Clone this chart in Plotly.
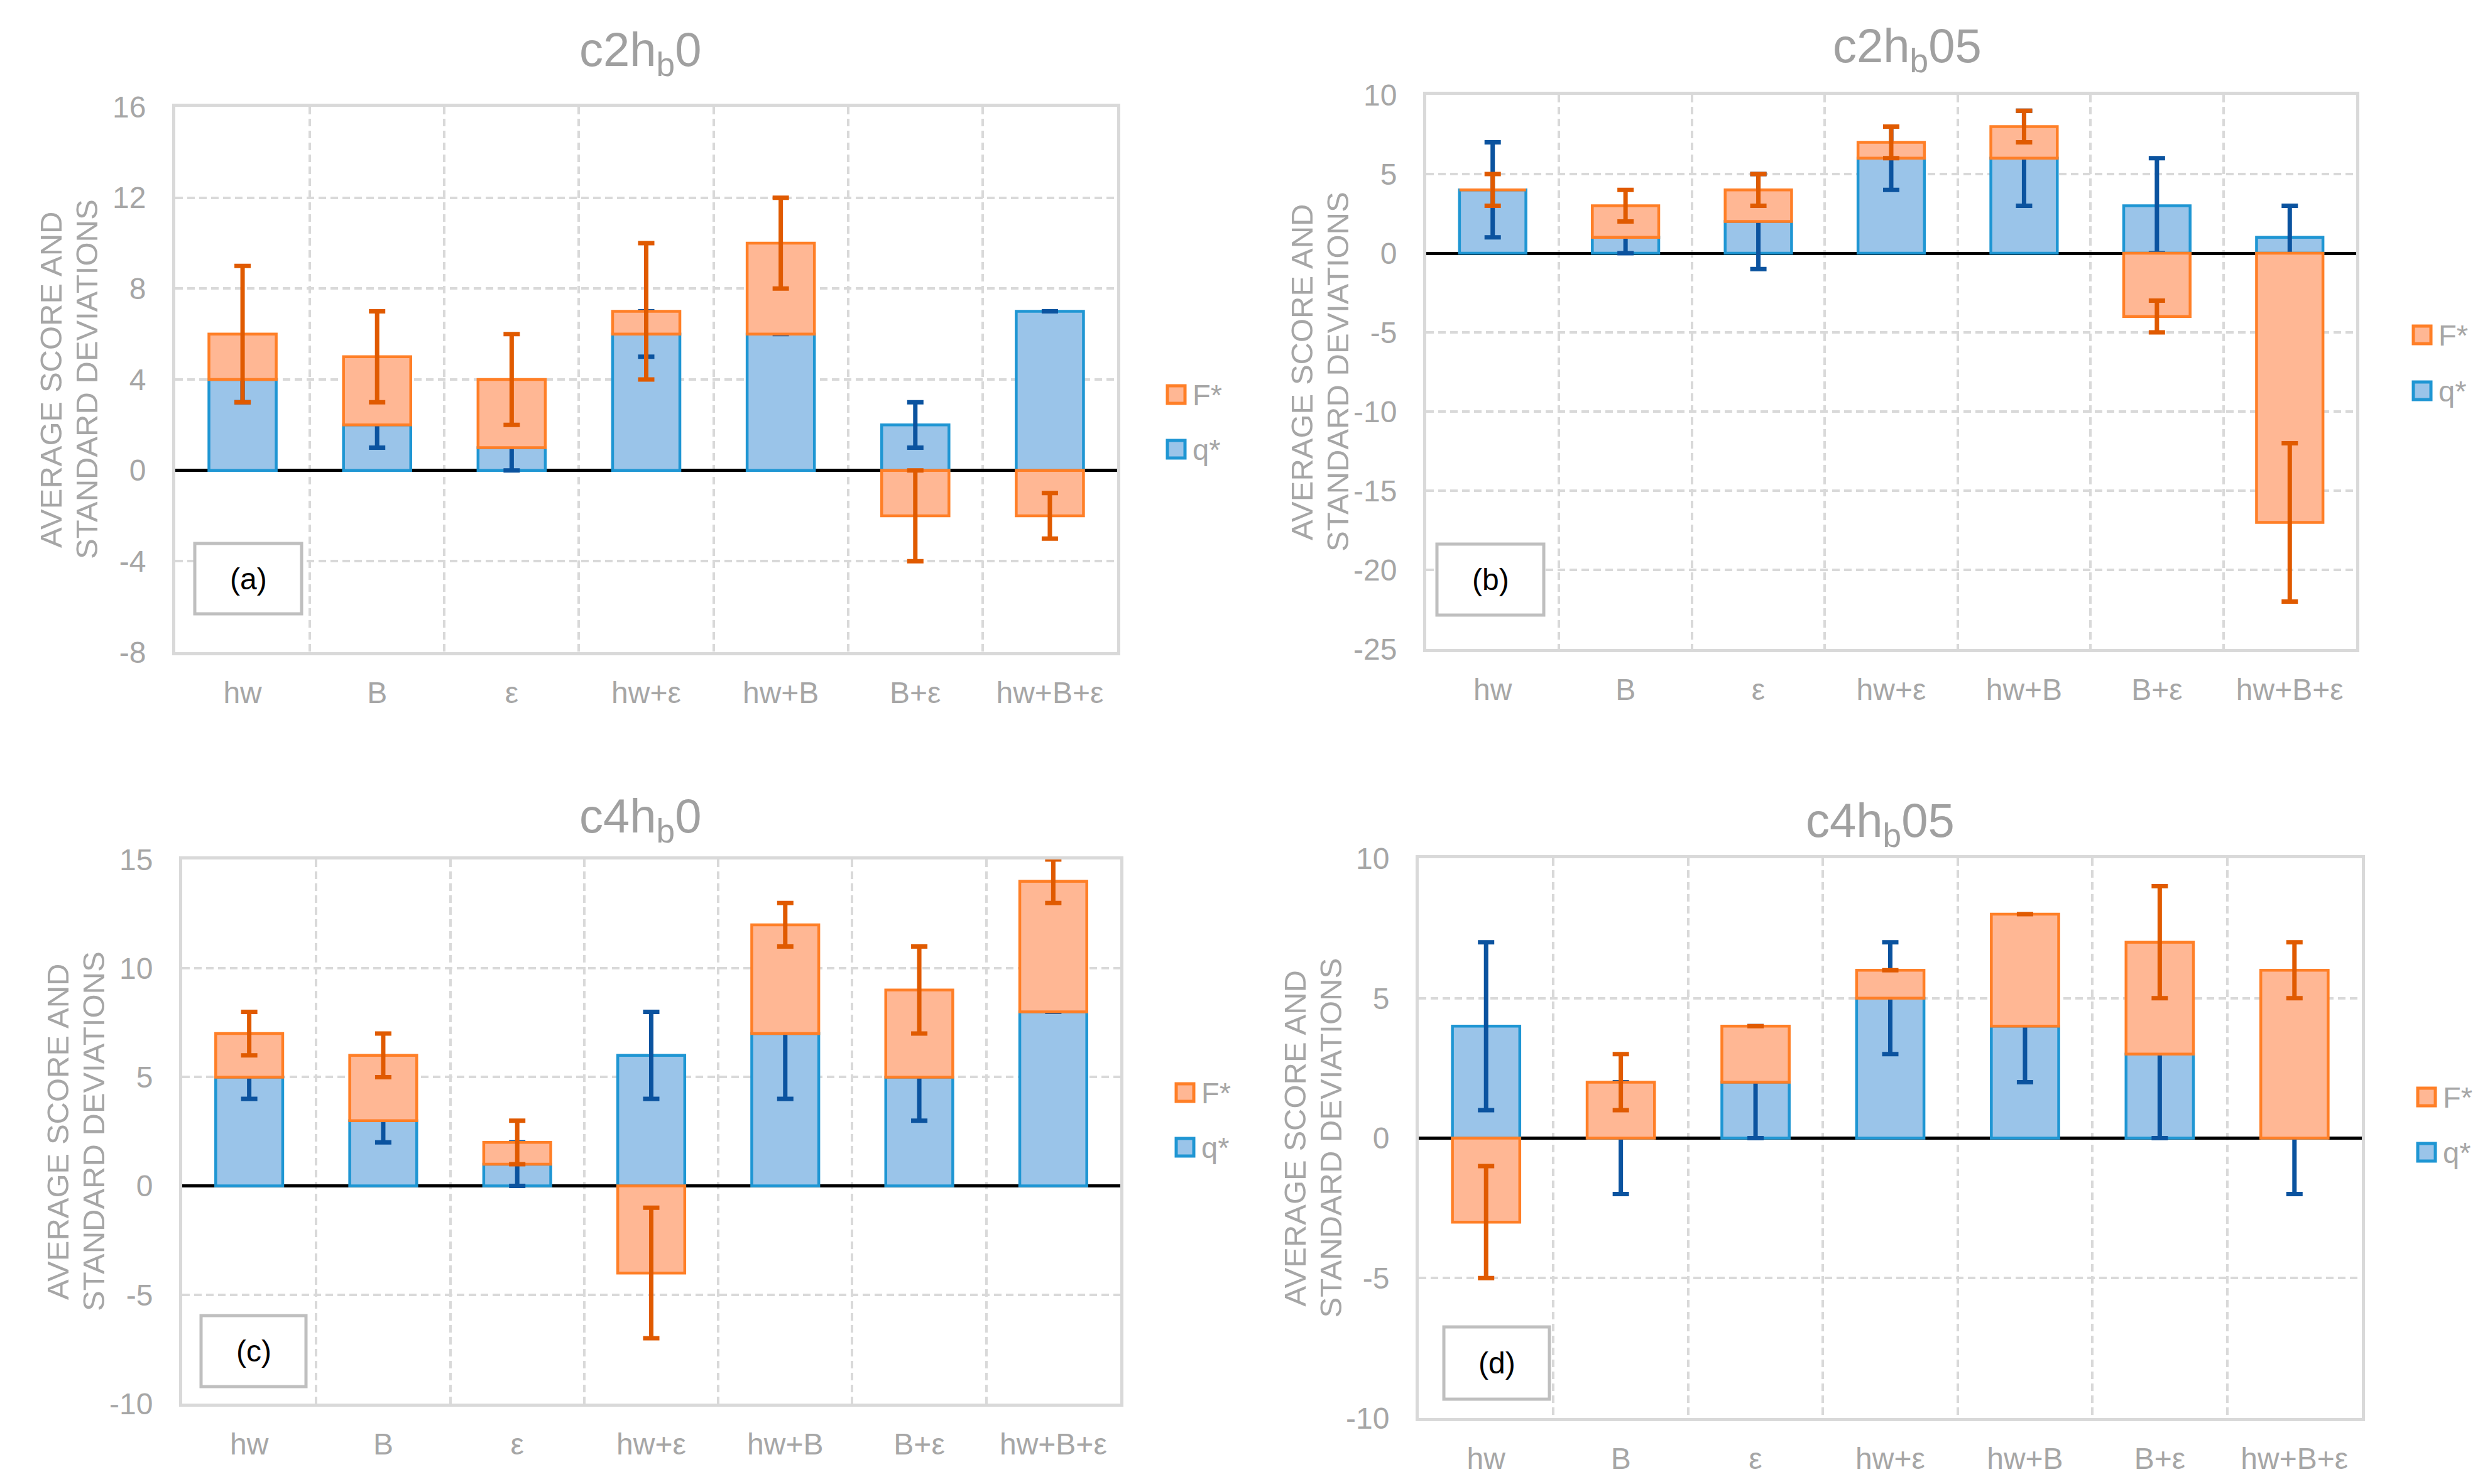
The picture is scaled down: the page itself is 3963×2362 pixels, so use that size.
import plotly.graph_objects as go

W, H = 3963, 2362

categories = ["hw", "B", "ε", "hw+ε", "hw+B", "B+ε", "hw+B+ε"]

# (a) c2h_b0
a_q = [4, 2, 1, 6, 6, 2, 7]
a_q_err = [1, 1, 1, 1, 0, 1, 0]
a_F = [2, 3, 3, 1, 4, -2, -2]
a_F_err = [3, 2, 2, 3, 2, 2, 1]

# (b) c2h_b05
b_q = [4, 1, 2, 6, 6, 3, 1]
b_q_err = [3, 1, 3, 2, 3, 3, 2]
b_F = [0, 2, 2, 1, 2, -4, -17]
b_F_err = [1, 1, 1, 1, 1, 1, 5]

# (c) c4h_b0
c_q = [5, 3, 1, 6, 7, 5, 8]
c_q_err = [1, 1, 1, 2, 3, 2, 0]
c_F = [2, 3, 1, -4, 5, 4, 6]
c_F_err = [1, 1, 1, 3, 1, 2, 1]

# (d) c4h_b05
d_q = [4, 0, 2, 5, 4, 3, 0]
d_q_err = [3, 2, 2, 2, 2, 3, 2]
d_F = [-3, 2, 2, 1, 4, 4, 6]
d_F_err = [2, 1, 0, 0, 0, 2, 1]

# y tick values and labels per panel
a_yticks = [-8, -4, 0, 4, 8, 12, 16]
b_yticks = [-25, -20, -15, -10, -5, 0, 5, 10]
c_yticks = [-10, -5, 0, 5, 10, 15]
d_yticks = [-10, -5, 0, 5, 10]
a_yticklabels = ["-8", "-4", "0", "4", "8", "12", "16"]
b_yticklabels = ["-25", "-20", "-15", "-10", "-5", "0", "5", "10"]
c_yticklabels = ["-10", "-5", "0", "5", "10", "15"]
d_yticklabels = ["-10", "-5", "0", "5", "10"]

titles = ["c2h<sub>b</sub>0", "c2h<sub>b</sub>05", "c4h<sub>b</sub>0", "c4h<sub>b</sub>05"]
panel_labels = ["(a)", "(b)", "(c)", "(d)"]
y_ranges = [[-8, 16], [-25, 10], [-10, 15], [-10, 10]]
y_tickvals = [a_yticks, b_yticks, c_yticks, d_yticks]
y_ticktexts = [a_yticklabels, b_yticklabels, c_yticklabels, d_yticklabels]

FONT = "Liberation Sans, Arial, sans-serif"
GRAY = "#A6A6A6"
GRID = "#D9D9D9"
BLUE_FILL = "#9AC4E9"
BLUE_LINE = "#1F96D3"
BLUE_ERR = "#0B539F"
OR_FILL = "#FFB794"
OR_LINE = "#FF7F27"
OR_ERR = "#E05A00"


def px(x):
    return x / W


def py(y):
    return 1 - y / H


# plot area pixel boxes: left, right, top, bottom
boxes = [
    (279, 1778, 170, 1038),
    (2270, 3750, 151, 1033),
    (290, 1783, 1368, 2234),
    (2258, 3759, 1366, 2257),
]
title_pos = [(1019, 84), (3035, 78), (1019, 1304), (2992, 1311)]
legend_pos = [((1872, 628), (1872, 715)), ((3855, 533), (3855, 622)),
              ((1886, 1739), (1886, 1826)), ((3862, 1746), (3862, 1834))]
label_boxes = [(310, 480, 865, 977), (2287, 2457, 866, 979),
               (320, 487, 2094, 2207), (2298, 2466, 2112, 2227)]

data = [
    (a_q, a_q_err, a_F, a_F_err),
    (b_q, b_q_err, b_F, b_F_err),
    (c_q, c_q_err, c_F, c_F_err),
    (d_q, d_q_err, d_F, d_F_err),
]

fig = go.Figure()
annotations = []
shapes = []
layout = {}

for i, (q, qe, F, Fe) in enumerate(data):
    n = i + 1
    xref = "x" if n == 1 else f"x{n}"
    yref = "y" if n == 1 else f"y{n}"
    fig.add_trace(go.Bar(
        x=categories, y=q, name="q*", xaxis=xref, yaxis=yref,
        marker=dict(color=BLUE_FILL, line=dict(color=BLUE_LINE, width=4.5)),
        error_y=dict(type="data", array=qe, visible=True, color=BLUE_ERR,
                     thickness=7, width=13),
        showlegend=False,
    ))
    fig.add_trace(go.Bar(
        x=categories, y=F, name="F*", xaxis=xref, yaxis=yref,
        marker=dict(color=OR_FILL, line=dict(color=OR_LINE, width=4.5)),
        error_y=dict(type="data", array=Fe, visible=True, color=OR_ERR,
                     thickness=7, width=13),
        showlegend=False,
    ))
    L, R, T, B = boxes[i]
    xk = "xaxis" if n == 1 else f"xaxis{n}"
    yk = "yaxis" if n == 1 else f"yaxis{n}"
    layout[xk] = dict(
        domain=[px(L), px(R)], anchor=yref, type="category",
        categoryorder="array", categoryarray=categories,
        tickson="boundaries", showgrid=True, gridcolor=GRID, gridwidth=4,
        griddash="12px,7px", showline=True, mirror=True, linecolor=GRID,
        linewidth=5, ticks="", zeroline=False, automargin=False,
        tickfont=dict(family=FONT, size=48, color=GRAY),
        ticklabelstandoff=18,
    )
    layout[yk] = dict(
        domain=[py(B), py(T)], anchor=xref, range=y_ranges[i],
        tickmode="array", tickvals=y_tickvals[i], ticktext=y_ticktexts[i],
        showgrid=True, gridcolor=GRID,
        gridwidth=4, griddash="12px,7px", zeroline=True,
        zerolinecolor="black", zerolinewidth=5, showline=True, mirror=True,
        linecolor=GRID, linewidth=5, ticks="", automargin=False,
        tickfont=dict(family=FONT, size=48, color=GRAY),
        ticklabelstandoff=32,
    )
    # title
    tx, ty = title_pos[i]
    annotations.append(dict(
        text=titles[i], x=px(tx), y=py(ty), xref="paper", yref="paper",
        xanchor="center", yanchor="middle", showarrow=False,
        font=dict(family=FONT, size=76, color="#A0A0A0"),
    ))
    # y axis title (two lines)
    yc = (T + B) / 2
    for txt, off in (("AVERAGE SCORE AND", -198), ("STANDARD DEVIATIONS", -141)):
        annotations.append(dict(
            text=txt, x=px(L + off), y=py(yc), xref="paper", yref="paper",
            xanchor="center", yanchor="middle", showarrow=False,
            textangle=-90, font=dict(family=FONT, size=49, color=GRAY),
        ))
    # legend
    for (cx, cy), name, fill, line in zip(legend_pos[i], ["F*", "q*"],
                                          [OR_FILL, BLUE_FILL], [OR_LINE, BLUE_LINE]):
        shapes.append(dict(
            type="rect", xref="paper", yref="paper",
            x0=px(cx - 14), x1=px(cx + 14), y0=py(cy + 14), y1=py(cy - 14),
            line=dict(color=line, width=5), fillcolor=fill, layer="above",
        ))
        annotations.append(dict(
            text=name, x=px(cx + 24), y=py(cy), xref="paper", yref="paper",
            xanchor="left", yanchor="middle", showarrow=False,
            font=dict(family=FONT, size=47, color=GRAY),
        ))
    # panel label box
    bx0, bx1, by0, by1 = label_boxes[i]
    shapes.append(dict(
        type="rect", xref="paper", yref="paper",
        x0=px(bx0), x1=px(bx1), y0=py(by1), y1=py(by0),
        line=dict(color="#BFBFBF", width=5), fillcolor="white", layer="above",
    ))
    annotations.append(dict(
        text=panel_labels[i], x=px((bx0 + bx1) / 2), y=py((by0 + by1) / 2),
        xref="paper", yref="paper", xanchor="center", yanchor="middle",
        showarrow=False, font=dict(family=FONT, size=48, color="black"),
    ))

fig.update_layout(
    width=W, height=H, margin=dict(l=0, r=0, t=0, b=0, autoexpand=False),
    paper_bgcolor="white", plot_bgcolor="white",
    barmode="relative", bargap=0.5, showlegend=False,
    annotations=annotations, shapes=shapes,
    font=dict(family=FONT, color=GRAY),
    **layout,
)

fig.write_html("out.html",
               config={"displayModeBar": False},
               post_script="document.body.style.margin='0';document.body.style.overflow='hidden';")
